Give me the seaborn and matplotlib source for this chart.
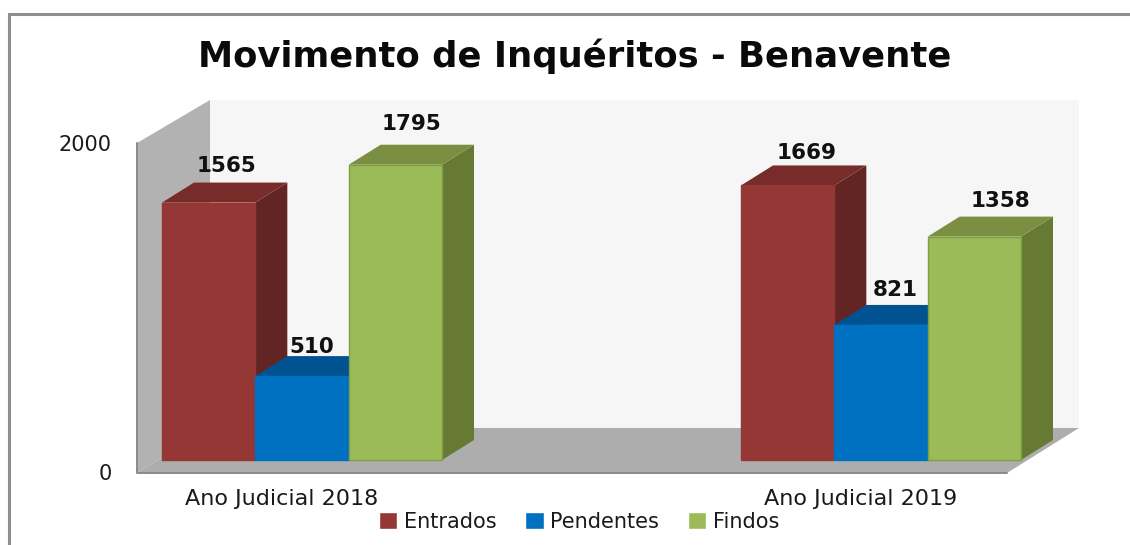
import pandas as pd
import matplotlib
matplotlib.use('Agg')
import matplotlib.pyplot as plt
import seaborn as sns
from matplotlib.patches import Polygon
from matplotlib.transforms import ScaledTranslation

# values
anos = ['Ano Judicial 2018', 'Ano Judicial 2019']
series = ['Entrados', 'Pendentes', 'Findos']
entrados = [1565, 1669]
pendentes = [510, 821]
findos = [1795, 1358]

front = ['#953735', '#0070C0', '#9BBB59']
side = ['#632523', '#005390', '#667A33']
top = ['#772C2A', '#005390', '#7B8F42']
edge = ['#953735', '#0070C0', '#7F9F45']

# where each value label sits relative to its bar (pixels)
label_shift = {1565: (18, 37), 510: (10, 29), 1795: (16, 41),
               1669: (19, 32), 821: (14, 35), 1358: (26, 36)}

W, H = 1130, 545
GROUP_PX = 579        # distance between the two groups
VAL_PX = 0.1645       # pixels per unit
DX = 32 / GROUP_PX
DY = 20 / VAL_PX

df = pd.DataFrame({'ano': anos * 3,
                   'serie': [s for s in series for _ in anos],
                   'valor': entrados + pendentes + findos})

sns.set_theme(style='white')
plt.rcParams['font.family'] = ['DejaVu Sans']

fig = plt.figure(figsize=(W / 100, H / 100), dpi=100, facecolor='white')

# background in pixel coordinates: frame and the 3D box
bg = fig.add_axes([0, 0, 1, 1], zorder=0)
bg.set_xlim(0, W)
bg.set_ylim(H, 0)
bg.axis('off')
bg.plot([9, 9, W], [H, 13.5, 13.5], color='#8E8E8E', lw=2.2, solid_joinstyle='miter')
bg.add_patch(Polygon([(210, 100), (1079, 100), (1079, 428), (210, 428)], fc='#F6F6F6', ec='none'))
bg.add_patch(Polygon([(137, 143), (210, 100), (210, 428), (137, 473)], fc='#B2B2B2', ec='none'))
bg.add_patch(Polygon([(137, 473), (1007, 473), (1079, 428), (210, 428)], fc='#ADADAD', ec='none'))
bg.plot([137, 137, 1007], [143, 473, 473], color='#8A8A8A', lw=1.4)

# the plane of the bar fronts
left_px, right_px, base_px = 137, 1007, 460
top_px = base_px - 2000 * VAL_PX
ax = fig.add_axes([left_px / W, 1 - base_px / H, (right_px - left_px) / W, (base_px - top_px) / H], zorder=1)
ax.patch.set_alpha(0)

sns.barplot(data=df, x='ano', y='valor', hue='serie', hue_order=series, order=anos,
            palette=front, width=280 / GROUP_PX, gap=0, saturation=1, ax=ax)

ax.set_xlim((left_px - 302) / GROUP_PX, (right_px - 302) / GROUP_PX)
ax.set_ylim(0, 2000)
ax.set_yticks([0, 2000])
ax.set_xlabel('')
ax.set_ylabel('')
sns.despine(ax=ax, left=True, bottom=True)
ax.tick_params(axis='y', length=0, pad=18, labelsize=15, colors='#1A1A1A')
ax.tick_params(axis='x', length=0, pad=21, labelsize=16, colors='#1A1A1A')

# the labels belong to the floor edge, not to the bar plane
for lab in ax.get_yticklabels():
    lab.set_transform(lab.get_transform() + ScaledTranslation(0, -0.12, fig.dpi_scale_trans))
for lab in ax.get_xticklabels():
    lab.set_transform(lab.get_transform() + ScaledTranslation(-0.20, 0, fig.dpi_scale_trans))

# side and top faces of each bar, left bars first so that later ones cover them
for i, cont in enumerate(ax.containers):
    for j, bar in enumerate(cont):
        x0, x1 = bar.get_x(), bar.get_x() + bar.get_width()
        h = bar.get_height()
        z = 3 + 3 * (j * 3 + i)
        ax.add_patch(Polygon([(x1, 0), (x1 + DX, DY), (x1 + DX, h + DY), (x1, h)],
                             fc=side[i], ec='none', clip_on=False, zorder=z))
        ax.add_patch(Polygon([(x0, h), (x0 + DX, h + DY), (x1 + DX, h + DY), (x1, h)],
                             fc=top[i], ec='none', clip_on=False, zorder=z + 1))
        bar.set_zorder(z + 2)
        bar.set_clip_on(False)
        bar.set_edgecolor(edge[i])
        bar.set_linewidth(1.0)
        dx, dy = label_shift[int(h)]
        ax.annotate(str(int(h)), xy=((x0 + x1) / 2, h), xytext=(dx, dy), textcoords='offset pixels',
                    ha='center', va='center', fontsize=15.5, fontweight='bold', color='#111111',
                    annotation_clip=False, zorder=40)

sns.move_legend(ax, 'center', bbox_to_anchor=(579 / W, 1 - 522 / H),
                bbox_transform=fig.transFigure, ncol=3, frameon=False, title=None,
                fontsize=15, handlelength=0.88, handleheight=0.88, handletextpad=0.3,
                columnspacing=1.4, borderpad=0, labelcolor='#1A1A1A')

fig.text(575 / W, 1 - 56 / H, 'Movimento de Inquéritos - Benavente', ha='center', va='center',
         fontsize=25.5, fontweight='bold', family='DejaVu Sans', color='#0A0A0A')

fig.savefig('out.png', dpi=100)
